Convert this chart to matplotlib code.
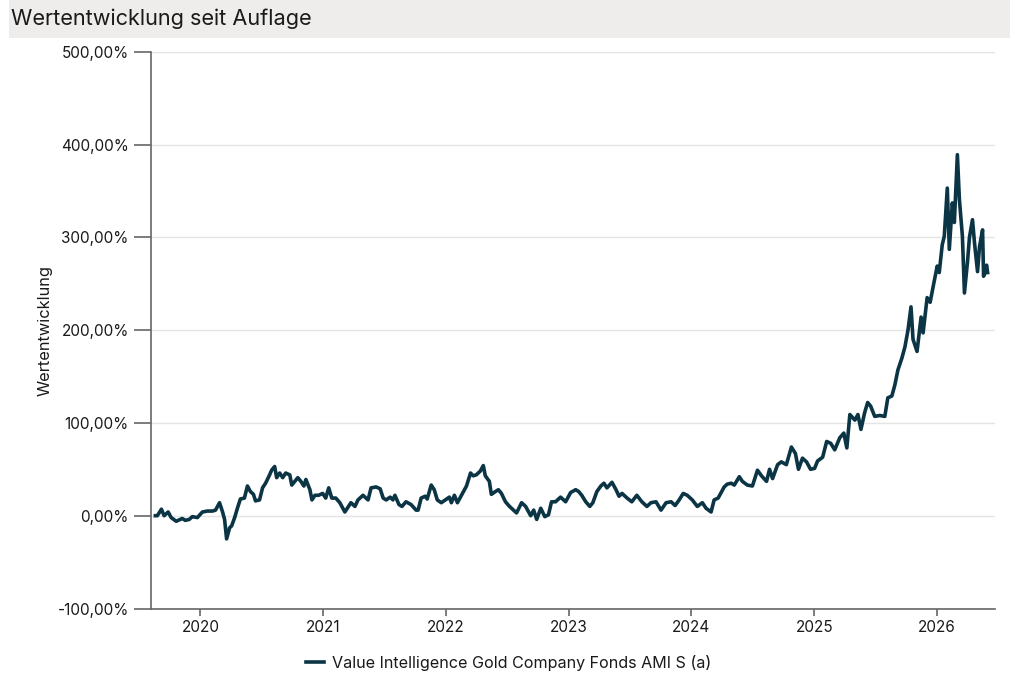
import matplotlib
matplotlib.use("Agg")
import matplotlib.pyplot as plt
import matplotlib.dates as mdates
import matplotlib.ticker as mticker
import pandas as pd

plt.rcParams['font.family'] = ['Inter', 'DejaVu Sans']

dates = [
    "2019-08-20", "2019-08-26", "2019-09-07", "2019-09-15", "2019-09-27", "2019-10-06", "2019-10-21",
    "2019-11-08", "2019-11-17", "2019-11-29", "2019-12-08", "2019-12-23", "2020-01-07",
    "2020-01-22", "2020-02-06", "2020-02-15", "2020-02-27", "2020-03-07", "2020-03-13",
    "2020-03-19", "2020-03-28", "2020-04-03", "2020-04-12", "2020-04-21", "2020-04-29",
    "2020-05-11", "2020-05-20", "2020-05-29", "2020-06-07", "2020-06-13", "2020-06-25",
    "2020-07-04", "2020-07-13", "2020-07-25", "2020-07-31", "2020-08-09", "2020-08-15",
    "2020-08-24", "2020-09-02", "2020-09-11", "2020-09-23", "2020-09-29", "2020-10-08",
    "2020-10-17", "2020-10-26", "2020-11-04", "2020-11-10", "2020-11-22", "2020-11-28",
    "2020-12-07", "2020-12-18", "2020-12-30", "2021-01-08", "2021-01-17", "2021-01-26",
    "2021-02-07", "2021-02-19", "2021-03-06", "2021-03-15", "2021-03-24", "2021-04-05",
    "2021-04-14", "2021-04-29", "2021-05-14", "2021-05-23", "2021-06-07", "2021-06-19",
    "2021-06-28", "2021-07-07", "2021-07-19", "2021-07-27", "2021-08-02", "2021-08-14",
    "2021-08-23", "2021-09-04", "2021-09-19", "2021-10-04", "2021-10-10", "2021-10-19",
    "2021-10-31", "2021-11-06", "2021-11-18", "2021-11-27", "2021-12-06", "2021-12-18",
    "2021-12-30", "2022-01-11", "2022-01-17", "2022-01-26", "2022-02-04", "2022-02-22",
    "2022-03-03", "2022-03-15", "2022-03-23", "2022-04-01", "2022-04-13", "2022-04-22",
    "2022-04-28", "2022-05-10", "2022-05-16", "2022-05-28", "2022-06-06", "2022-06-15",
    "2022-06-27", "2022-07-09", "2022-07-21", "2022-07-30", "2022-08-14", "2022-08-26",
    "2022-09-10", "2022-09-19", "2022-09-28", "2022-10-10", "2022-10-22", "2022-11-02",
    "2022-11-11", "2022-11-23", "2022-12-08", "2022-12-23", "2023-01-07", "2023-01-22",
    "2023-01-31", "2023-02-09", "2023-02-21", "2023-03-05", "2023-03-14", "2023-03-26",
    "2023-04-07", "2023-04-16", "2023-04-25", "2023-05-10", "2023-05-22", "2023-05-31",
    "2023-06-09", "2023-06-24", "2023-07-08", "2023-07-23", "2023-08-07", "2023-08-22",
    "2023-09-03", "2023-09-18", "2023-10-03", "2023-10-18", "2023-11-02", "2023-11-14",
    "2023-11-26", "2023-12-08", "2023-12-20", "2024-01-04", "2024-01-19", "2024-02-03",
    "2024-02-14", "2024-02-29", "2024-03-09", "2024-03-21", "2024-04-08", "2024-04-17",
    "2024-04-29", "2024-05-08", "2024-05-23", "2024-06-01", "2024-06-16", "2024-07-01",
    "2024-07-16", "2024-07-28", "2024-08-12", "2024-08-21", "2024-08-30", "2024-09-14",
    "2024-09-25", "2024-10-10", "2024-10-25", "2024-11-06", "2024-11-15", "2024-11-27",
    "2024-12-09", "2024-12-21", "2025-01-02", "2025-01-11", "2025-01-26", "2025-02-07",
    "2025-02-19", "2025-03-03", "2025-03-18", "2025-03-30", "2025-04-08", "2025-04-17",
    "2025-05-02", "2025-05-11", "2025-05-20", "2025-05-31", "2025-06-09", "2025-06-18",
    "2025-06-30", "2025-07-15", "2025-07-30", "2025-08-08", "2025-08-20", "2025-08-29",
    "2025-09-07", "2025-09-19", "2025-09-28", "2025-10-07", "2025-10-16", "2025-10-22",
    "2025-11-03", "2025-11-15", "2025-11-21", "2025-12-03", "2025-12-12", "2025-12-21",
    "2026-01-02", "2026-01-08", "2026-01-17", "2026-01-23", "2026-02-01", "2026-02-07",
    "2026-02-16", "2026-02-22", "2026-03-03", "2026-03-09", "2026-03-18", "2026-03-24",
    "2026-04-02", "2026-04-08", "2026-04-17", "2026-04-23", "2026-05-02", "2026-05-08",
    "2026-05-17", "2026-05-20", "2026-05-29", "2026-06-01",
]

values = [
    0, 0, 7, 0, 4, -2, -6,
    -3, -5, -4, -1, -2, 4,
    5, 5, 6, 14, 4, -4,
    -25, -13, -11, -2, 9, 18,
    19, 32, 26, 23, 16, 17,
    30, 35, 44, 49, 53, 41,
    46, 41, 46, 44, 33, 37,
    41, 37, 32, 39, 28, 17,
    22, 22, 24, 19, 30, 19,
    19, 14, 4, 9, 14, 10,
    17, 22, 17, 30, 31, 29,
    19, 17, 20, 17, 22, 12,
    10, 15, 12, 6, 6, 19,
    21, 18, 33, 28, 17, 14,
    17, 20, 14, 22, 14, 26,
    32, 46, 43, 44, 48, 54,
    43, 37, 23, 26, 28, 24,
    15, 10, 6, 3, 14, 10,
    0, 6, -4, 8, -1, 1,
    15, 15, 20, 15, 25, 28,
    26, 22, 15, 10, 14, 26,
    32, 35, 30, 36, 28, 21,
    24, 19, 15, 22, 15, 10,
    14, 15, 6, 14, 15, 11,
    17, 24, 22, 17, 10, 14,
    8, 4, 17, 19, 31, 34,
    35, 33, 42, 37, 33, 32,
    49, 43, 37, 50, 40, 55,
    58, 55, 74, 67, 50, 62,
    58, 50, 51, 59, 63, 80,
    78, 71, 84, 89, 73, 109,
    103, 109, 93, 111, 122, 118,
    107, 108, 107, 127, 129, 141,
    157, 170, 182, 200, 225, 190,
    177, 214, 197, 235, 230, 247,
    269, 262, 292, 301, 353, 287,
    337, 316, 389, 341, 301, 240,
    273, 300, 319, 294, 263, 290,
    308, 258, 270, 262,
]

series_name = "Value Intelligence Gold Company Fonds AMI S (a)"
title = "Wertentwicklung seit Auflage"
y_label = "Wertentwicklung"
y_ticks = [-100, 0, 100, 200, 300, 400, 500]

x = pd.to_datetime(dates)

fig = plt.figure(figsize=(10.18, 6.77), dpi=100)
fig.patch.set_facecolor("white")

# title bar
fig.patches.append(matplotlib.patches.Rectangle(
    (9 / 1018, 1 - 38 / 677), (1010 - 9) / 1018, 38 / 677,
    transform=fig.transFigure, facecolor="#eeedeb", edgecolor="none", zorder=0))
fig.text(11 / 1018, 1 - 19 / 677, title, fontsize=15.6, color="#1a1a1a",
         ha="left", va="center")

ax = fig.add_axes([151 / 1018, 1 - 608.5 / 677, (995 - 151) / 1018, (608.5 - 51.7) / 677])
ax.plot(x, values, color="#0b3444", linewidth=2.6, label=series_name,
        solid_joinstyle="round")

ax.set_ylim(-100, 500)
ax.set_yticks(y_ticks)
ax.yaxis.set_major_formatter(mticker.FuncFormatter(
    lambda v, p: f"{v:.2f}".replace(".", ",") + "%"))
ax.set_xlim(pd.Timestamp("2019-08-07"), pd.Timestamp("2026-06-23"))
ax.xaxis.set_major_locator(mdates.YearLocator())
ax.xaxis.set_major_formatter(mdates.DateFormatter("%Y"))

ax.grid(axis="y", color="#e4e4e4", linewidth=1)
ax.set_axisbelow(True)
for s in ["top", "right"]:
    ax.spines[s].set_visible(False)
for s in ["left", "bottom"]:
    ax.spines[s].set_color("#666666")
    ax.spines[s].set_linewidth(1.2)
ax.tick_params(axis="y", length=12, width=1.2, color="#666666", labelsize=11,
               labelcolor="#1a1a1a", pad=4)
ax.tick_params(axis="x", length=5, width=1.2, color="#666666", labelsize=11,
               labelcolor="#1a1a1a", pad=3)
ax.set_ylabel(y_label, fontsize=11.8, color="#1a1a1a")
ax.yaxis.set_label_coords(-0.117, 0.5)

leg = fig.legend(loc="center", bbox_to_anchor=(509 / 1018, 1 - 663 / 677),
                 frameon=False, fontsize=11.6, handlelength=1.1, handletextpad=0.5)
for t in leg.get_texts():
    t.set_color("#1a1a1a")

fig.savefig("out.png", dpi=100)
